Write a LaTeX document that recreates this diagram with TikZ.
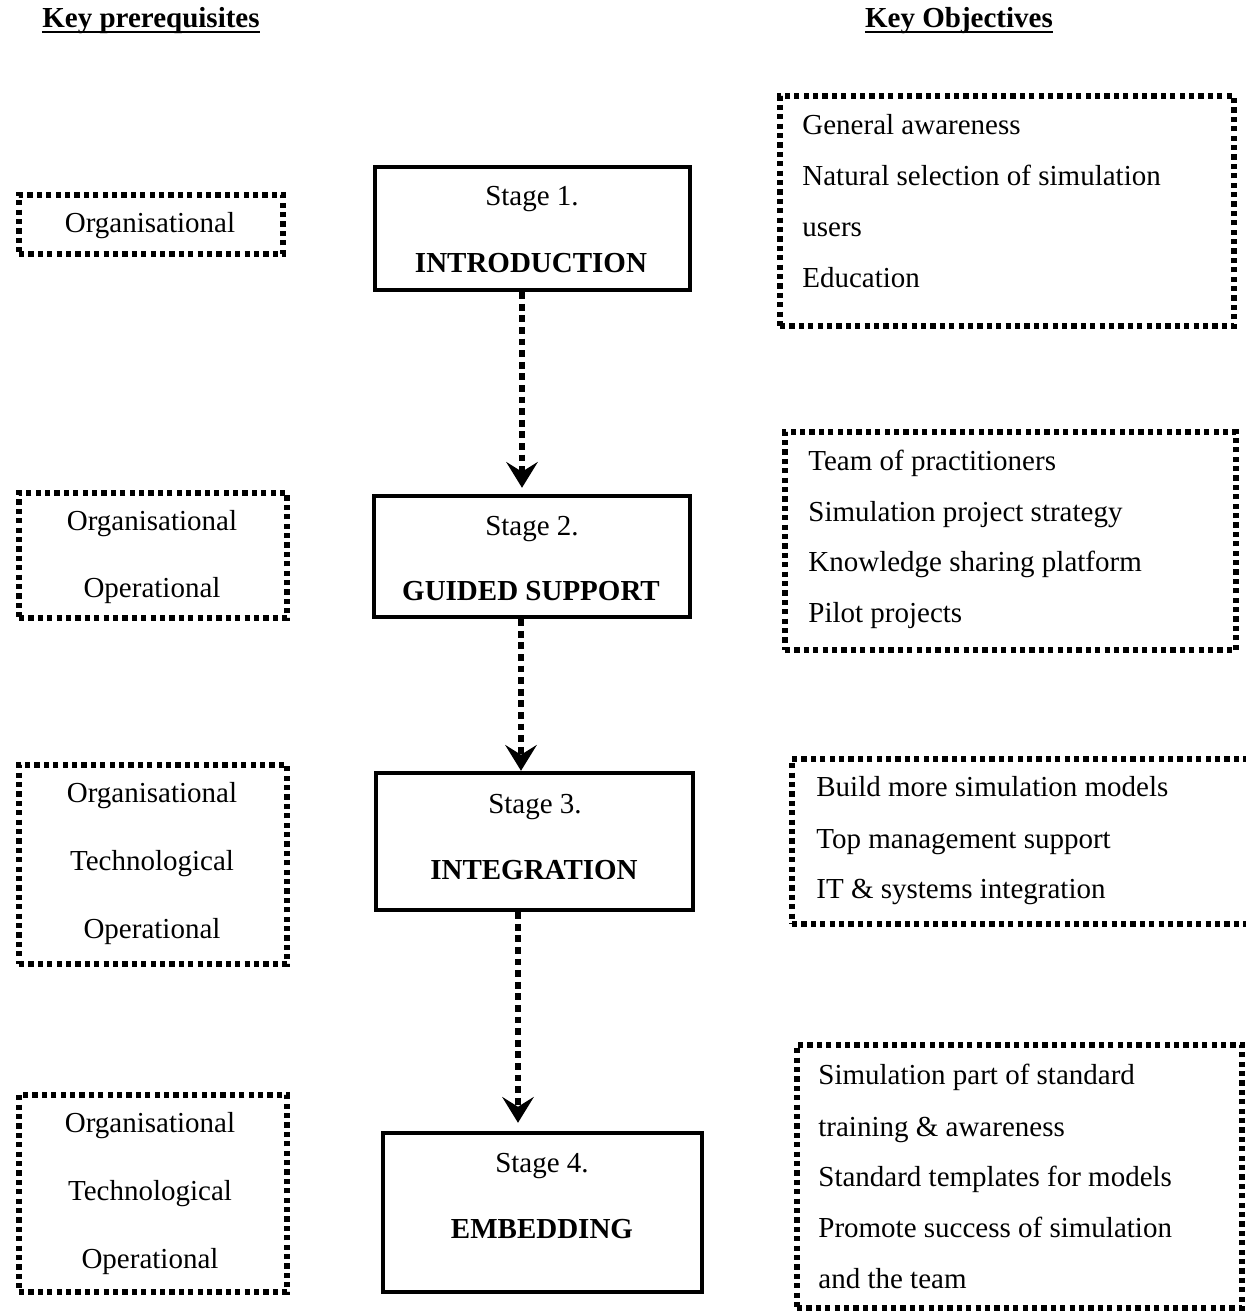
\documentclass[tikz,border=0pt]{standalone}
\usepackage{fontspec}
\setmainfont{Liberation Serif}
\usetikzlibrary{arrows.meta}
\begin{document}
\begin{tikzpicture}[x=0.5pt,y=-0.5pt,
  every node/.style={font=\fontsize{14.5}{17}\selectfont, inner sep=0pt},
  dotbox/.style={draw, line width=2.7pt, dash pattern=on 2.6pt off 2.1pt},
  stagebox/.style={draw, line width=2pt},
  flow/.style={line width=3pt, dash pattern=on 3.4pt off 2.4pt,
    -{Stealth[length=13pt,width=16pt,inset=5pt,line width=0pt]}},
  lbl/.style={anchor=base},
  item/.style={anchor=base west},
  head/.style={anchor=base, font=\fontsize{14.5}{17}\selectfont\bfseries},
  uline/.style={line width=1pt}
]
\useasboundingbox (0,0) rectangle (1246,1314);

% headings
\node[head] (hkp) at (151,27) {Key prerequisites};
\node[head] (hko) at (959,27) {Key Objectives};
\draw[uline] ([yshift=-2.6pt]hkp.base west) -- ([yshift=-2.6pt]hkp.base east);
\draw[uline] ([yshift=-2.6pt]hko.base west) -- ([yshift=-2.6pt]hko.base east);

% left prerequisite boxes
\node[dotbox, minimum width=132pt, minimum height=29.5pt] (l1) at (151,224.5) {};
\node[dotbox, minimum width=134pt, minimum height=62.5pt] (l2) at (153,555.5) {};
\node[dotbox, minimum width=134pt, minimum height=99.5pt] (l3) at (153,864.5) {};
\node[dotbox, minimum width=134pt, minimum height=98.5pt] (l4) at (153,1193.5) {};

\node[lbl] (l1a) at (150,232) {Organisational};
\node[lbl] (l2a) at (152,530) {Organisational};
\node[lbl] (l2b) at (152,597) {Operational};
\node[lbl] (l3a) at (152,802) {Organisational};
\node[lbl] (l3b) at (152,870) {Technological};
\node[lbl] (l3c) at (152,938) {Operational};
\node[lbl] (l4a) at (150,1132) {Organisational};
\node[lbl] (l4b) at (150,1200) {Technological};
\node[lbl] (l4c) at (150,1268) {Operational};

% stage boxes
\node[stagebox, minimum width=157.75pt, minimum height=61.75pt] (s1) at (532.5,228.5) {};
\node[stagebox, minimum width=158.25pt, minimum height=60.75pt] (s2) at (532,556.5) {};
\node[stagebox, minimum width=158.75pt, minimum height=68.75pt] (s3) at (534.5,841.5) {};
\node[stagebox, minimum width=159.75pt, minimum height=79.75pt] (s4) at (542.5,1212.5) {};

\node[lbl] (s1a) at (532,205) {Stage 1.};
\node[lbl,font=\fontsize{14.5}{17}\selectfont\bfseries] (s1b) at (531,272) {INTRODUCTION};
\node[lbl] (s2a) at (532,535) {Stage 2.};
\node[lbl,font=\fontsize{14.5}{17}\selectfont\bfseries] (s2b) at (531,600) {GUIDED SUPPORT};
\node[lbl] (s3a) at (535,813) {Stage 3.};
\node[lbl,font=\fontsize{14.5}{17}\selectfont\bfseries] (s3b) at (534,879) {INTEGRATION};
\node[lbl] (s4a) at (542,1172) {Stage 4.};
\node[lbl,font=\fontsize{14.5}{17}\selectfont\bfseries] (s4b) at (542,1238) {EMBEDDING};

% flow arrows
\draw[flow, shorten >=3pt] (s1.south -| 522,0) -- (s2.north -| 522,0);
\draw[flow] (s2.south -| 521,0) -- (s3.north -| 521,0);
\draw[flow, shorten >=4pt] (s3.south -| 518,0) -- (s4.north -| 518,0);

% right objective boxes
\node[dotbox, minimum width=227pt, minimum height=115pt] (r1) at (1007,211) {};
\node[dotbox, minimum width=225.5pt, minimum height=109pt] (r2) at (1010.5,541) {};
\node[dotbox, minimum width=235pt, minimum height=82.5pt] (r3) at (1027,841.5) {};
\node[dotbox, minimum width=222.5pt, minimum height=131.5pt] (r4) at (1019.5,1176.5) {};

\node[item] (r1a) at (802,134) {General awareness};
\node[item] (r1b) at (802,185) {Natural selection of simulation};
\node[item] (r1c) at (802,236) {users};
\node[item] (r1d) at (802,287) {Education};

\node[item] (r2a) at (808,470) {Team of practitioners};
\node[item] (r2b) at (808,521) {Simulation project strategy};
\node[item] (r2c) at (808,571) {Knowledge sharing platform};
\node[item] (r2d) at (808,622) {Pilot projects};

\node[item] (r3a) at (816,796) {Build more simulation models};
\node[item] (r3b) at (816,848) {Top management support};
\node[item] (r3c) at (816,898) {IT \& systems integration};

\node[item] (r4a) at (818,1084) {Simulation part of standard};
\node[item] (r4b) at (818,1136) {training \& awareness};
\node[item] (r4c) at (818,1186) {Standard templates for models};
\node[item] (r4d) at (818,1237) {Promote success of simulation};
\node[item] (r4e) at (818,1288) {and the team};
\end{tikzpicture}
\end{document}
